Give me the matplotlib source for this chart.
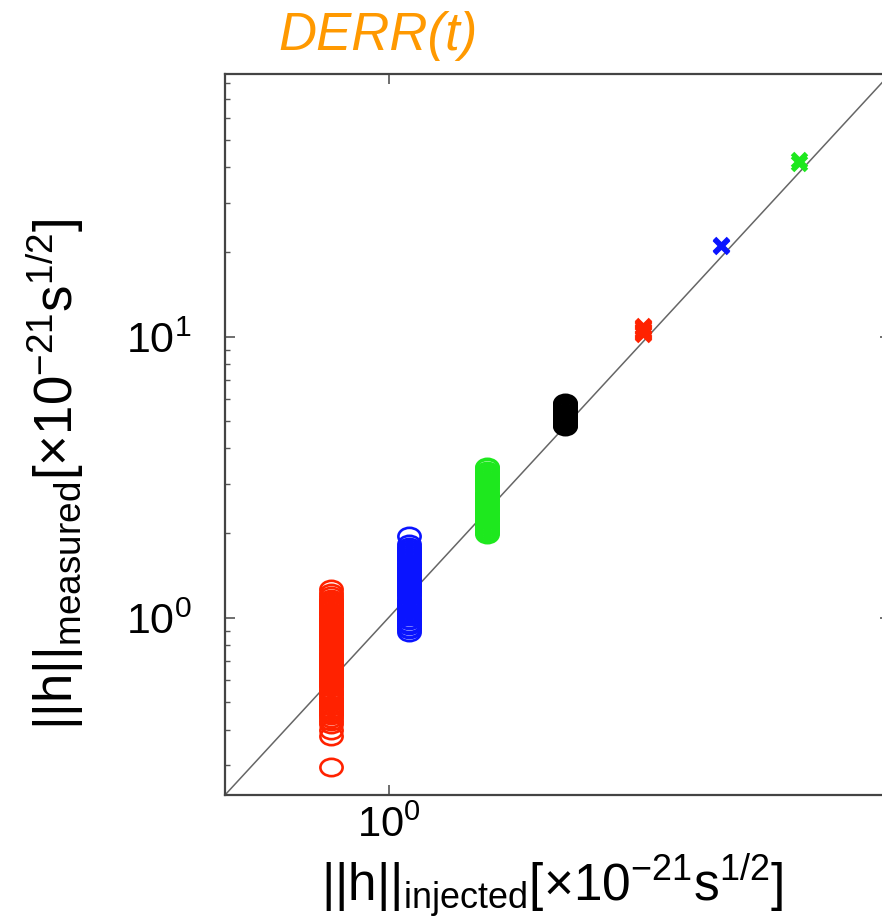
import numpy as np
import matplotlib
matplotlib.use('Agg')
import matplotlib.pyplot as plt
from matplotlib.path import Path
from matplotlib.transforms import Affine2D
from matplotlib.ticker import LogLocator, FixedLocator, NullLocator, NullFormatter

plt.rcParams['font.family'] = ['Liberation Sans', 'DejaVu Sans']
plt.rcParams['mathtext.fontset'] = 'custom'
plt.rcParams['mathtext.rm'] = 'Liberation Sans'
plt.rcParams['mathtext.it'] = 'Liberation Sans:italic'
plt.rcParams['mathtext.bf'] = 'Liberation Sans:bold'

# injected amplitude of each group
x_red_o = 0.6
x_blue_o = 1.2
x_green_o = 2.4
x_black_o = 4.8
x_red_x = 9.6
x_blue_x = 19.2
x_green_x = 38.4

# measured amplitudes
red_o = [1.27, 1.22, 1.19, 1.17, 1.15, 1.14, 1.12, 1.10, 1.09, 1.07, 1.05, 1.04,
         1.02, 1.00, 0.99, 0.97, 0.96, 0.94, 0.93, 0.91, 0.90, 0.88, 0.87, 0.86,
         0.84, 0.83, 0.82, 0.80, 0.79, 0.78, 0.77, 0.75, 0.74, 0.73, 0.72, 0.71,
         0.70, 0.69, 0.68, 0.67, 0.66, 0.65, 0.64, 0.63, 0.62, 0.61, 0.60, 0.59,
         0.58, 0.575, 0.565, 0.555, 0.545, 0.54, 0.53, 0.52, 0.515, 0.505, 0.50,
         0.49, 0.485, 0.475, 0.47, 0.46, 0.455, 0.45, 0.44, 0.43, 0.42, 0.40,
         0.38, 0.295]
blue_o = [1.96, 1.83, 1.79, 1.76, 1.73, 1.70, 1.67, 1.65, 1.62, 1.60, 1.57, 1.55,
          1.52, 1.50, 1.48, 1.45, 1.43, 1.41, 1.39, 1.37, 1.35, 1.33, 1.31, 1.29,
          1.27, 1.25, 1.23, 1.21, 1.19, 1.17, 1.15, 1.14, 1.12, 1.10, 1.09, 1.07,
          1.05, 1.04, 1.02, 1.01, 0.99, 0.98, 0.96, 0.95, 0.94, 0.92, 0.91, 0.89]
green_o = [3.45, 3.40, 3.34, 3.28, 3.22, 3.16, 3.11, 3.06, 3.01, 2.96, 2.91, 2.86,
           2.81, 2.76, 2.72, 2.68, 2.64, 2.60, 2.56, 2.52, 2.48, 2.44, 2.40, 2.36,
           2.33, 2.29, 2.26, 2.22, 2.19, 2.16, 2.13, 2.10, 2.07, 2.04, 2.01, 1.98]
black_o = [5.80, 5.74, 5.68, 5.62, 5.57, 5.52, 5.47, 5.42, 5.37, 5.32, 5.28, 5.24,
           5.20, 5.16, 5.12, 5.08, 5.04, 5.00, 4.96, 4.92, 4.88, 4.84, 4.81]
red_x = [10.9, 10.8, 10.7, 10.6, 10.5, 10.4, 10.3, 10.2]
blue_x = [21.0, 21.2]
green_x = [41.6, 42.4]

LIMS = (0.234, 86.0)

fig = plt.figure(figsize=(8.82, 9.2), dpi=100)
ax = fig.add_axes([225 / 882, 124 / 920, 665 / 882, 721 / 920])

# slightly flattened circle, as in the picture
ell = Path.unit_circle().transformed(Affine2D().scale(1.0, 0.78))

ax.plot(LIMS, LIMS, color='#666666', lw=1.1, zorder=1)

for xv, ys, col in [(x_red_o, red_o, '#ff2200'), (x_blue_o, blue_o, '#0a14ff'),
                    (x_green_o, green_o, '#1ee81e'), (x_black_o, black_o, 'black')]:
    ax.plot([xv] * len(ys), ys, ls='none', marker=ell, ms=16, mfc='none',
            mec=col, mew=1.9, zorder=2)

for xv, ys, col in [(x_red_x, red_x, '#ff2200'), (x_blue_x, blue_x, '#0a14ff'),
                    (x_green_x, green_x, '#1ee81e')]:
    ax.plot([xv] * len(ys), ys, ls='none', marker='x', ms=10, mec=col, mew=3.6,
            zorder=3)

ax.set_xscale('log')
ax.set_yscale('log')
ax.set_xlim(LIMS)
ax.set_ylim(LIMS)

ax.xaxis.set_major_locator(FixedLocator([1.0]))
ax.xaxis.set_minor_locator(NullLocator())
ax.yaxis.set_major_locator(LogLocator(base=10))
ax.yaxis.set_minor_locator(LogLocator(base=10, subs=np.arange(2, 10)))
ax.yaxis.set_minor_formatter(NullFormatter())

ax.tick_params(which='both', direction='in', top=True, right=True, color='#555555')
ax.tick_params(which='major', length=7, width=1.2)
ax.tick_params(which='minor', length=3.5, width=1.0)
ax.tick_params(axis='y', which='major', labelsize=31, pad=24)
ax.tick_params(axis='x', which='major', labelsize=30, pad=7)

for sp in ax.spines.values():
    sp.set_color('#444444')
    sp.set_linewidth(1.6)

fig.text(552 / 882, 1 - 886 / 920,
         r'$\mathrm{||h||}_{\mathrm{injected}}[\times10^{-21}\mathrm{s}^{1/2}]$',
         ha='center', va='center', fontsize=37)
fig.text(55 / 882, 1 - 474 / 920,
         r'$\mathrm{||h||}_{\mathrm{measured}}[\times10^{-21}\mathrm{s}^{1/2}]$',
         ha='center', va='center', fontsize=38, rotation=90)

fig.text(378 / 882, 1 - 36 / 920, 'DERR(t)', ha='center', va='center',
         fontsize=38, style='italic', color='#ff9900')

fig.savefig('out.png', dpi=100)
